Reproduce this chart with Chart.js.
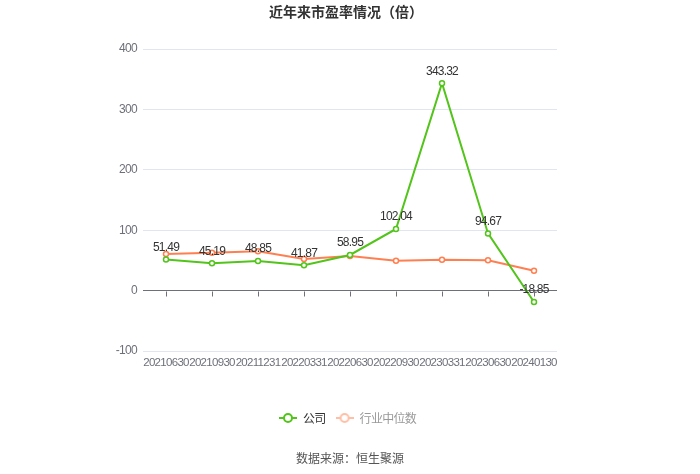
<!DOCTYPE html>
<html>
<head>
<meta charset="utf-8">
<script src="https://cdn.jsdelivr.net/npm/chart.js@4/dist/chart.umd.min.js"></script>
<style>
html,body{margin:0;padding:0;background:#fff;}
#wrap{width:700px;height:474px;position:relative;}
</style>
</head>
<body>
<div id="wrap"><canvas id="c" width="700" height="474"></canvas></div>
<script>
const categories = ['20210630','20210930','20211231','20220331','20220630','20220930','20230331','20230630','20240130'];
const companyPE = [51.49, 45.19, 48.85, 41.87, 58.95, 102.04, 343.32, 94.67, -18.85];
const industryPE = [60.7, 62.8, 65.0, 52.4, 57.3, 49.6, 51.2, 50.1, 33.0];
const yTicks = [-100, 0, 100, 200, 300, 400];
const seriesNames = ['公司', '行业中位数'];
const titleText = '近年来市盈率情况（倍）';
const sourceText = '数据来源：恒生聚源';

const GREEN = '#52c41a';
const ORANGE = '#ff7f50';
const FONT = '"Noto Sans CJK SC", "Noto Sans", sans-serif';
const NUMFONT = '"Liberation Sans", Arial, sans-serif';
const NUMSPACING = '-0.7px';

function legendIcon(color) {
  const cv = document.createElement('canvas');
  cv.width = 18; cv.height = 12;
  const g = cv.getContext('2d');
  g.strokeStyle = color; g.lineWidth = 2;
  g.beginPath(); g.moveTo(0, 6); g.lineTo(18, 6); g.stroke();
  g.fillStyle = '#fff';
  g.beginPath(); g.arc(9, 6, 4, 0, Math.PI * 2); g.fill(); g.stroke();
  return cv;
}

const extras = {
  id: 'extras',
  beforeDraw(chart) {
    if ('letterSpacing' in chart.ctx) chart.ctx.letterSpacing = NUMSPACING;
  },
  beforeDatasetsDraw(chart) {
    if ('letterSpacing' in chart.ctx) chart.ctx.letterSpacing = '0px';
  },
  afterDatasetsDraw(chart) {
    const ctx = chart.ctx;
    const x = chart.scales.x, y = chart.scales.y;
    ctx.save();
    ctx.strokeStyle = '#6e7079';
    ctx.lineWidth = 1;
    const y0 = Math.round(y.getPixelForValue(0)) + 0.5;
    for (let i = 0; i < categories.length; i++) {
      const px = Math.round(x.getPixelForValue(i)) + 0.5;
      ctx.beginPath(); ctx.moveTo(px, y0); ctx.lineTo(px, y0 + 5); ctx.stroke();
    }
    const meta = chart.getDatasetMeta(0);
    ctx.fillStyle = '#333';
    ctx.font = '12px ' + NUMFONT;
    ctx.textAlign = 'center';
    ctx.textBaseline = 'middle';
    if ('letterSpacing' in ctx) ctx.letterSpacing = '-0.8px';
    meta.data.forEach((pt, i) => {
      ctx.fillText(companyPE[i].toFixed(2), pt.x, pt.y - 12);
    });
    if ('letterSpacing' in ctx) ctx.letterSpacing = '0px';
    ctx.fillStyle = '#333';
    ctx.font = 'bold 14px ' + FONT;
    ctx.fillText(titleText, 346, 12);
    ctx.fillStyle = '#555';
    ctx.font = '12px ' + FONT;
    ctx.fillText(sourceText, 350, 458);
    ctx.restore();
  },
  afterDraw(chart) {
    if ('letterSpacing' in chart.ctx) chart.ctx.letterSpacing = '0px';
  }
};

new Chart(document.getElementById('c'), {
  type: 'line',
  data: {
    labels: categories,
    datasets: [
      {
        label: seriesNames[0],
        data: companyPE,
        borderColor: GREEN,
        backgroundColor: '#fff',
        borderWidth: 2,
        pointRadius: 2.5,
        pointBorderWidth: 1.5,
        pointBorderColor: GREEN,
        pointBackgroundColor: '#fff',
        tension: 0
      },
      {
        label: seriesNames[1],
        data: industryPE,
        borderColor: ORANGE,
        backgroundColor: '#fff',
        borderWidth: 2,
        pointRadius: 2.5,
        pointBorderWidth: 1.5,
        pointBorderColor: ORANGE,
        pointBackgroundColor: '#fff',
        tension: 0
      }
    ]
  },
  options: {
    responsive: false,
    animation: false,
    devicePixelRatio: 1,
    layout: { padding: { left: 0, right: 143, top: 49, bottom: 40 } },
    plugins: {
      title: { display: false },
      tooltip: { enabled: false },
      legend: {
        position: 'bottom',
        fullSize: false,
        labels: {
          usePointStyle: true,
          pointStyleWidth: 18,
          padding: 10,
          font: { size: 12, family: FONT },
          generateLabels(chart) {
            return [
              { text: seriesNames[0], pointStyle: legendIcon(GREEN), fontColor: '#333', datasetIndex: 0, lineWidth: 0, strokeStyle: 'transparent', fillStyle: 'transparent' },
              { text: seriesNames[1], pointStyle: legendIcon('#ffbfa6'), fontColor: '#999', datasetIndex: 1, lineWidth: 0, strokeStyle: 'transparent', fillStyle: 'transparent' }
            ];
          }
        }
      }
    },
    scales: {
      x: {
        offset: true,
        grid: { display: false, drawTicks: false },
        border: { display: false },
        ticks: {
          color: '#6e7079',
          font: { size: 11.5, family: NUMFONT },
          padding: 5,
          maxRotation: 0,
          autoSkip: false
        },
        afterFit(s) { s.height = 51; }
      },
      y: {
        min: -100,
        max: 400,
        afterBuildTicks(s) { s.ticks = yTicks.map(v => ({ value: v })); },
        grid: {
          drawTicks: false,
          color(c) { return c.tick && c.tick.value === 0 ? '#6e7079' : '#e0e6f1'; }
        },
        border: { display: false },
        ticks: {
          color: '#6e7079',
          font: { size: 12, family: NUMFONT },
          padding: 6
        },
        afterFit(s) { s.width = 143; }
      }
    }
  },
  plugins: [extras]
});
</script>
</body>
</html>
